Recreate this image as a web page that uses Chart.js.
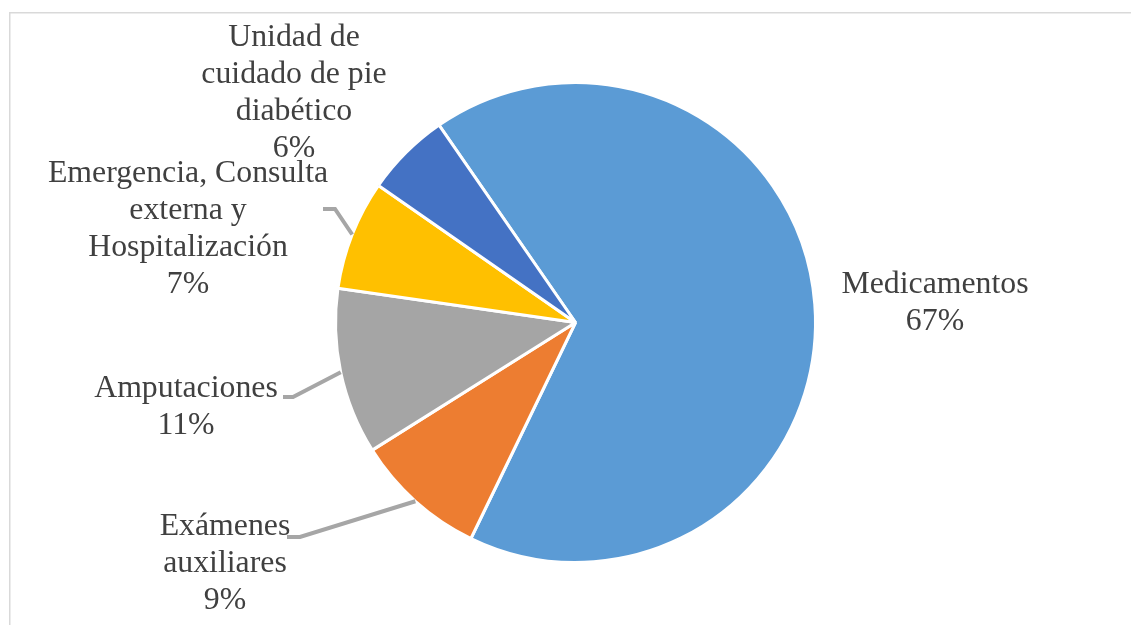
<!DOCTYPE html>
<html>
<head>
<meta charset="utf-8">
<script src="https://cdn.jsdelivr.net/npm/chart.js@4.4.0/dist/chart.umd.min.js"></script>
<style>
  html, body { margin: 0; padding: 0; background: #ffffff; }
  #wrap { width: 1131px; height: 625px; position: relative; }
  canvas { display: block; }
</style>
</head>
<body>
<div id="wrap"><canvas id="c" width="1131" height="625"></canvas></div>
<script>
// ---- data (clockwise order, starting from the Medicamentos slice) ----
const categories = [
  'Medicamentos',
  'Exámenes\nauxiliares',
  'Amputaciones',
  'Emergencia, Consulta\nexterna y\nHospitalización',
  'Unidad de\ncuidado de pie\ndiabético'
];
const values = [66.8, 8.9, 11.2, 7.4, 5.7];
const colors = ['#5B9BD5', '#ED7D31', '#A5A5A5', '#FFC000', '#4472C4'];

// ---- label layout (centre x, first baseline y, optional leader elbow) ----
const labelLayout = [
  { x: 935, y: 293, leader: null },
  { x: 225, y: 535, leader: [[300, 537], [287, 537]] },
  { x: 186, y: 397, leader: [[293, 397], [283, 397]] },
  { x: 188, y: 182, leader: [[335, 209], [323, 209]] },
  { x: 294, y: 46,  leader: null }
];
const LINE_H = 37;
const FONT = '31.8px "Liberation Serif", "Times New Roman", serif';

const frame = {
  id: 'frame',
  beforeDraw(chart) {
    const ctx = chart.ctx;
    ctx.save();
    ctx.fillStyle = '#ffffff';
    ctx.fillRect(0, 0, chart.width, chart.height);
    ctx.strokeStyle = '#D9D9D9';
    ctx.lineWidth = 1.5;
    ctx.beginPath();
    ctx.moveTo(9.75, chart.height);
    ctx.lineTo(9.75, 12.75);
    ctx.lineTo(chart.width, 12.75);
    ctx.stroke();
    ctx.restore();
  }
};

const labels = {
  id: 'pieLabels',
  afterDatasetsDraw(chart) {
    const ctx = chart.ctx;
    const meta = chart.getDatasetMeta(0);
    const data = chart.data.datasets[0].data;
    const total = data.reduce((a, b) => a + b, 0);
    ctx.save();
    meta.data.forEach((arc, i) => {
      const L = labelLayout[i];
      const p = arc.getProps(['x', 'y', 'startAngle', 'endAngle', 'outerRadius'], true);
      if (L.leader) {
        const mid = (p.startAngle + p.endAngle) / 2;
        const r = p.outerRadius;
        const ex = p.x + Math.cos(mid) * r;
        const ey = p.y + Math.sin(mid) * r;
        ctx.strokeStyle = '#A6A6A6';
        ctx.lineWidth = 4;
        ctx.lineJoin = 'miter';
        ctx.beginPath();
        ctx.moveTo(ex, ey);
        ctx.lineTo(L.leader[0][0], L.leader[0][1]);
        ctx.lineTo(L.leader[1][0], L.leader[1][1]);
        ctx.stroke();
      }
      const lines = chart.data.labels[i].split('\n');
      lines.push(Math.round(data[i] / total * 100) + '%');
      ctx.font = FONT;
      ctx.fillStyle = '#404040';
      ctx.textAlign = 'center';
      ctx.textBaseline = 'alphabetic';
      lines.forEach((t, k) => ctx.fillText(t, L.x, L.y + k * LINE_H));
    });
    ctx.restore();
  }
};

new Chart(document.getElementById('c'), {
  type: 'pie',
  data: {
    labels: categories,
    datasets: [{
      data: values,
      backgroundColor: colors,
      borderColor: '#ffffff',
      borderWidth: 3,
      hoverOffset: 0
    }]
  },
  options: {
    responsive: false,
    animation: false,
    rotation: -34.65,
    layout: { padding: { left: 334, right: 314, top: 81, bottom: 61 } },
    plugins: {
      legend: { display: false },
      tooltip: { enabled: false }
    },
    events: []
  },
  plugins: [frame, labels]
});
</script>
</body>
</html>
